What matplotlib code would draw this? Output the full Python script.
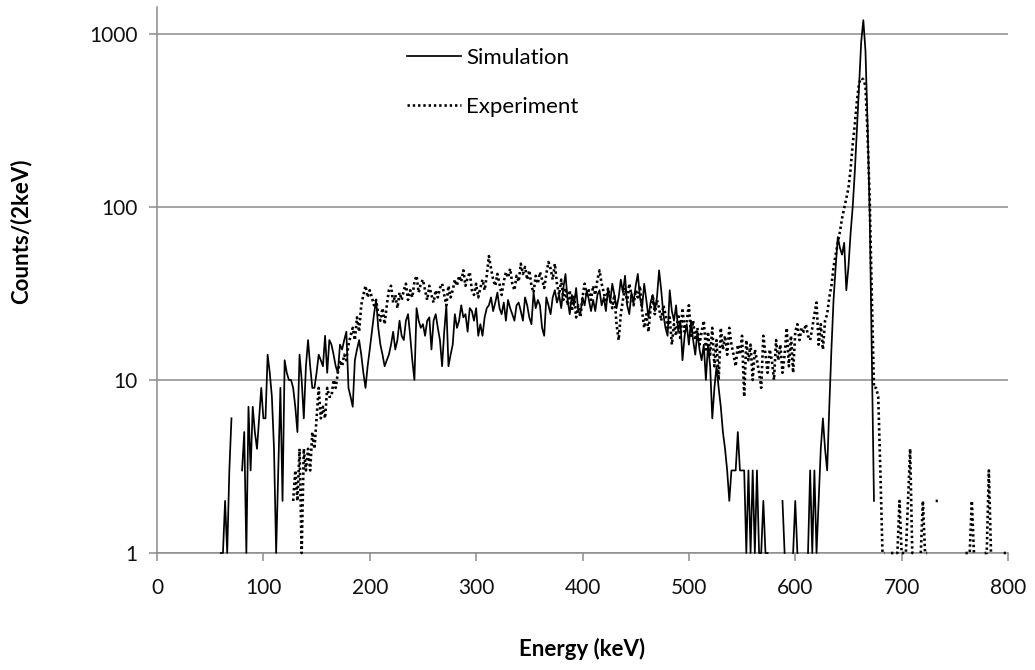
import numpy as np
import matplotlib
matplotlib.use("Agg")
import matplotlib.pyplot as plt

# ---------------- data (2 keV channels) ----------------
BIN_WIDTH = 2          # keV per channel
sim_start = 56         # keV of first simulation channel
sim_counts = [
    0, 0, 1, 1, 2, 1, 3, 6, 0, 0,            # 56
    0, 0, 3, 5, 1, 7, 3, 7, 5, 4,            # 76
    6, 9, 6, 6, 14, 11, 8, 4, 1, 3,          # 96
    9, 2, 13, 11, 10, 10, 9, 7, 5, 14,       # 116
    10, 6, 12, 17, 12, 9, 9, 11, 14, 13,     # 136
    12, 18, 11, 17, 16, 14, 12, 11, 16, 15,  # 156
    17, 19, 9, 8, 7, 13, 15, 17, 14, 11,     # 176
    9, 12, 15, 19, 24, 29, 20, 16, 14, 12,   # 196
    13, 14, 16, 19, 15, 17, 22, 18, 17, 22,  # 216
    24, 18, 13, 10, 26, 22, 20, 21, 18, 22,  # 236
    23, 15, 22, 24, 20, 17, 12, 19, 27, 12,  # 256
    14, 16, 24, 20, 22, 27, 23, 24, 19, 26,  # 276
    25, 22, 26, 18, 21, 18, 23, 26, 27, 30,  # 296
    25, 28, 32, 26, 24, 28, 22, 29, 26, 24,  # 316
    22, 27, 28, 25, 22, 30, 27, 23, 21, 32,  # 336
    26, 29, 27, 20, 18, 30, 27, 24, 30, 33,  # 356
    28, 31, 26, 34, 41, 29, 24, 31, 27, 34,  # 376
    25, 24, 30, 27, 33, 29, 25, 29, 25, 31,  # 396
    33, 27, 30, 25, 34, 28, 36, 31, 26, 30,  # 416
    38, 32, 40, 27, 24, 32, 28, 35, 41, 30,  # 436
    26, 36, 29, 23, 28, 31, 25, 30, 43, 33,  # 456
    24, 20, 18, 33, 25, 22, 27, 19, 22, 13,  # 476
    18, 21, 16, 22, 17, 14, 19, 15, 13, 16,  # 496
    10, 16, 12, 6, 9, 12, 9, 7, 5, 4,        # 516
    3, 2, 3, 3, 3, 5, 3, 3, 3, 1,            # 536
    3, 1, 3, 1, 3, 1, 1, 2, 1, 1,            # 556
    0, 0, 0, 0, 0, 0, 2, 1, 0, 0,            # 576
    0, 1, 2, 1, 0, 0, 0, 0, 1, 3,            # 596
    1, 3, 1, 2, 4, 6, 4, 3, 7, 15,           # 616
    29, 45, 67, 58, 53, 62, 33, 45, 70, 100, # 636
    160, 280, 500, 900, 1200, 800, 300, 90, 14, 2,  # 656
]

exp_start = 128        # keV of first experiment channel
exp_counts = [
    2, 3, 2, 4, 1, 4, 3, 4, 3, 5,            # 128
    4, 6, 9, 6, 7, 6, 9, 8, 8, 10,           # 148
    9, 11, 13, 12, 14, 13, 16, 18, 20, 17,   # 168
    23, 19, 27, 31, 35, 30, 33, 30, 27, 29,  # 188
    24, 22, 26, 21, 27, 33, 35, 28, 31, 26,  # 208
    32, 29, 33, 36, 29, 33, 30, 37, 40, 32,  # 228
    36, 38, 33, 29, 35, 31, 28, 33, 30, 34,  # 248
    36, 31, 27, 35, 30, 33, 38, 35, 40, 37,  # 268
    43, 35, 39, 42, 33, 31, 36, 30, 34, 38,  # 288
    33, 40, 52, 44, 38, 35, 41, 36, 31, 37,  # 308
    42, 39, 44, 36, 33, 40, 37, 47, 41, 45,  # 328
    38, 43, 35, 32, 40, 36, 42, 38, 34, 41,  # 348
    48, 44, 38, 47, 36, 31, 38, 29, 34, 27,  # 368
    33, 25, 31, 23, 27, 23, 30, 36, 31, 33,  # 388
    29, 35, 31, 38, 43, 36, 32, 28, 34, 30,  # 408
    26, 31, 21, 17, 24, 29, 34, 28, 36, 31,  # 428
    27, 33, 30, 35, 25, 20, 24, 19, 26, 31,  # 448
    24, 29, 26, 22, 27, 24, 20, 23, 16, 21,  # 468
    18, 24, 17, 26, 19, 22, 27, 18, 22, 17,  # 488
    20, 16, 19, 22, 15, 19, 14, 20, 12, 17,  # 508
    10, 20, 15, 18, 14, 20, 16, 14, 12, 16,  # 528
    14, 18, 8, 17, 13, 16, 10, 15, 13, 11,   # 548
    9, 18, 14, 11, 15, 13, 10, 17, 13, 16,   # 568
    11, 14, 20, 12, 18, 11, 19, 21, 17, 20,  # 588
    19, 21, 18, 17, 20, 24, 28, 16, 21, 15,  # 608
    22, 24, 30, 35, 45, 53, 62, 72, 86, 98,  # 628
    112, 128, 165, 230, 300, 410, 520, 555, 545, 500,  # 648
    260, 110, 30, 9, 9, 8, 3, 1, 1, 0,       # 668
    0, 1, 1, 1, 1, 2, 1, 1, 1, 2,            # 688
    4, 1, 1, 0, 0, 1, 2, 1, 1, 0,            # 708
    0, 0, 2, 2, 0, 0, 0, 0, 0, 0,            # 728
    0, 0, 0, 0, 0, 0, 1, 1, 1, 2,            # 748
    1, 0, 0, 0, 0, 1, 1, 3, 1, 0,            # 768
    0, 0, 0, 0, 1, 1,                        # 788
]

series_names = ["Simulation", "Experiment"]
x_ticks = [0, 100, 200, 300, 400, 500, 600, 700, 800]
y_ticks = [1, 10, 100, 1000]
y_tick_labels = ["1", "10", "100", "1000"]
x_label = "Energy (keV)"
y_label = "Counts/(2keV)"

# ---------------- plot ----------------
plt.rcParams["font.family"] = ["Lato", "DejaVu Sans"]

sim_e = sim_start + BIN_WIDTH * np.arange(len(sim_counts))
exp_e = exp_start + BIN_WIDTH * np.arange(len(exp_counts))

fig = plt.figure(figsize=(10.35, 6.70), dpi=100)
ax = fig.add_axes([157 / 1035, 1 - 553 / 670, 851 / 1035, 546 / 670])

ax.set_yscale("log", nonpositive="mask")
ax.set_xlim(0, 800)
ax.set_ylim(1, 1430)

grid_c = "#8c8c8c"
ax.set_yticks(y_ticks)
ax.set_yticklabels(y_tick_labels)
ax.yaxis.set_minor_locator(matplotlib.ticker.NullLocator())
ax.set_xticks(x_ticks)
ax.set_xticklabels([str(v) for v in x_ticks])

ax.yaxis.grid(True, color=grid_c, linewidth=1.1)
ax.set_axisbelow(True)

for s in ("top", "right"):
    ax.spines[s].set_visible(False)
for s in ("left", "bottom"):
    ax.spines[s].set_color(grid_c)
    ax.spines[s].set_linewidth(1.1)

ax.tick_params(axis="both", which="major", direction="out", length=6,
               width=1.1, color=grid_c, labelsize=15, labelcolor="#111111")
ax.tick_params(axis="x", pad=12)
ax.tick_params(axis="y", pad=8)

ax.plot(sim_e, sim_counts, color="black", linewidth=1.25,
        label=series_names[0], clip_on=False, zorder=4)
ax.plot(exp_e, exp_counts, color="black", linewidth=1.9,
        linestyle=(0, (0.9, 1.1)), label=series_names[1], clip_on=False, zorder=3)

ax.set_xlabel(x_label, fontsize=16, fontweight="bold")
ax.set_ylabel(y_label, fontsize=16, fontweight="bold")
ax.xaxis.set_label_coords(0.5, -0.155)
ax.yaxis.set_label_coords(-0.147, 0.59)

leg = ax.legend(loc="upper left", bbox_to_anchor=(0.294, 0.925), frameon=False,
                fontsize=16, handlelength=2.4, handletextpad=0.25,
                labelspacing=1.3, borderpad=0, borderaxespad=0)

fig.savefig("out.png", dpi=100)
